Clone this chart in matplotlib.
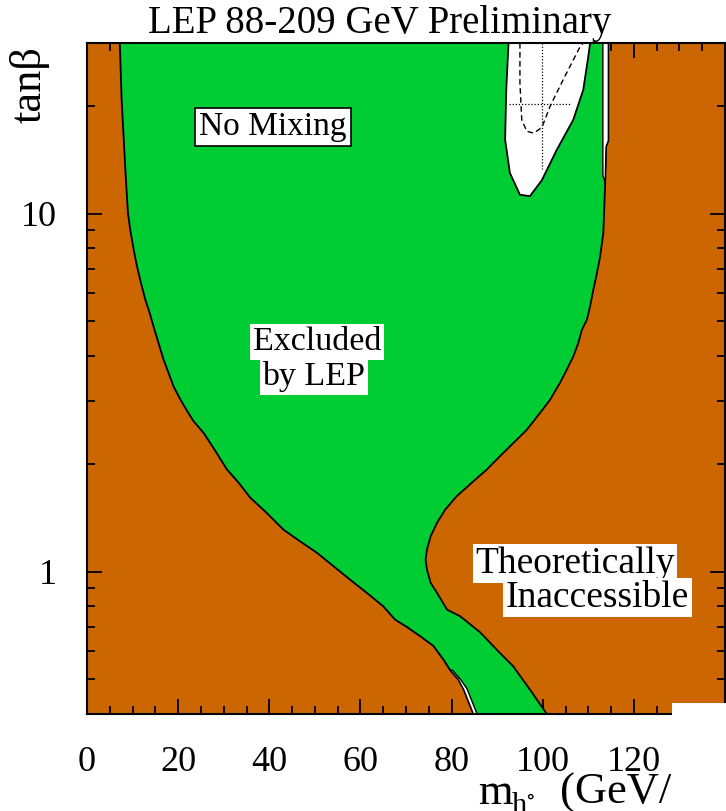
import matplotlib
matplotlib.use("Agg")
import matplotlib.pyplot as plt
from matplotlib.patches import Rectangle
from matplotlib.ticker import LogLocator, MultipleLocator, NullFormatter

plt.rcParams["font.family"] = ["Liberation Serif", "DejaVu Serif"]
plt.rcParams["mathtext.fontset"] = "stix"

BROWN = "#CC6600"
GREEN = "#00CC33"

# excluded region: left edge (top -> bottom), right edge (bottom -> top)
left_m = [7.2, 7.6, 8.5, 9.0, 9.5, 10.25, 11.0, 11.85, 12.8, 13.76, 14.6, 15.7,
          16.8, 17.9, 19.0, 20.4, 21.9, 23.4, 25.6, 28.2, 30.7, 33.3, 35.8, 39.4,
          43.1, 46.75, 50.4, 54.1, 57.7, 61.4, 65.0, 67.6, 70.2, 73.1, 76.0, 78.2,
          79.7, 81.5, 82.6, 84.8]
left_tb = [30, 20.8, 12.7, 10.0, 9.0, 7.93, 7.1, 6.4, 5.75, 5.28, 4.84, 4.35,
           3.91, 3.59, 3.29, 3.04, 2.82, 2.63, 2.44, 2.17, 1.93, 1.77, 1.61, 1.46,
           1.31, 1.215, 1.13, 1.035, 0.95, 0.872, 0.80, 0.734, 0.70, 0.66, 0.62, 0.568,
           0.53, 0.499, 0.47, 0.40]
right_m = [100.9, 97.2, 93.5, 89.9, 86.3, 81.9, 79.0, 76.8, 75.4, 74.6, 74.3, 74.6,
           75.4, 76.8, 78.6, 81.1, 84.4, 87.7, 90.6, 93.6, 96.5, 99.4, 101.6, 103.8,
           105.3, 106.7, 107.8, 108.6, 109.7, 110.4, 111.1, 111.9, 112.6, 113.3,
           113.7, 113.9, 114.4, 114.4]
right_tb = [0.40, 0.468, 0.544, 0.605, 0.676, 0.750, 0.783, 0.872, 0.93, 1.013, 1.08,
            1.152, 1.255, 1.368, 1.49, 1.623, 1.77, 1.927, 2.10, 2.29, 2.49, 2.775,
            3.02, 3.37, 3.67, 3.99, 4.35, 4.74, 5.06, 5.51, 6.13, 6.83, 7.6, 8.83,
            12.18, 15.4, 16.0, 30]

# thin allowed strip on the right edge of the excluded band
strip_m = [113.2, 113.2, 113.7, 113.9, 114.4, 114.4]
strip_tb = [30, 12.8, 12.2, 15.4, 16.0, 30]

# allowed region at high tan(beta)
blob_m = [92.5, 92.0, 91.75, 92.8, 95.0, 97.2, 99.8, 103.1, 106.7, 108.9, 110.0, 110.4]
blob_tb = [30, 22.2, 16.1, 13.0, 11.3, 11.2, 12.4, 15.1, 18.3, 22.2, 27.5, 30]

# expected limit (dashed)
dash_m = [95.0, 95.0, 95.4, 96.5, 98.0, 99.8, 101.6, 104.5, 108.2, 108.9]
dash_tb = [30, 23.2, 18.3, 17.0, 16.8, 17.4, 19.95, 23.7, 29.3, 30]

# dotted cross
vline_m = [99.8, 99.8]
vline_tb = [30, 13.3]
hline_m = [92.5, 106.0]
hline_tb = [20.2, 20.2]

# small allowed sliver near the bottom
sliver_m = [79.7, 81.5, 82.6, 84.8, 85.6, 83.4, 82.0, 80.2]
sliver_tb = [0.53, 0.499, 0.47, 0.40, 0.40, 0.47, 0.499, 0.53]

x_major = [0, 20, 40, 60, 80, 100, 120, 140]
x_labels = ["0", "20", "40", "60", "80", "100", "120", ""]
y_major = [1, 10]
y_labels = ["1", "10"]

fig = plt.figure(figsize=(7.26, 8.11), dpi=100)
ax = fig.add_axes([87 / 726, 1 - 714 / 811, 638 / 726, 671 / 811])
ax.set_facecolor(BROWN)
ax.set_yscale("log")
ax.set_xlim(0, 140)
ax.set_ylim(0.4, 30)

ax.fill(left_m + right_m, left_tb + right_tb, facecolor=GREEN,
        edgecolor="black", linewidth=1.3, zorder=2)
ax.fill(strip_m, strip_tb, facecolor="white", edgecolor="black", linewidth=1.0, zorder=3)
ax.fill(blob_m, blob_tb, facecolor="white", edgecolor="black", linewidth=1.3, zorder=3)
ax.fill(sliver_m, sliver_tb, facecolor="white", edgecolor="black", linewidth=1.0, zorder=3)
ax.plot(dash_m, dash_tb, color="black", linestyle=(0, (4, 2.5)), linewidth=1.0, zorder=4)
ax.plot(vline_m, vline_tb, color="black", linestyle=(0, (1, 1.5)), linewidth=0.9, zorder=4)
ax.plot(hline_m, hline_tb, color="black", linestyle=(0, (1, 1.5)), linewidth=0.9, zorder=4)

box = dict(facecolor="white", edgecolor="none", pad=2)
ax.text(40.8, 17.5, "No Mixing", fontsize=24, ha="center", va="center", zorder=5,
        bbox=dict(facecolor="white", edgecolor="black", linewidth=1.2, pad=3))
ax.text(50.5, 4.38, "Excluded", fontsize=24.5, ha="center", va="center", zorder=5, bbox=box)
ax.text(49.8, 3.51, "by LEP", fontsize=24.5, ha="center", va="center", zorder=5, bbox=box)
ax.text(107.1, 1.053, "Theoretically", fontsize=27, ha="center", va="center", zorder=5, bbox=box)
ax.text(112.0, 0.846, "Inaccessible", fontsize=27, ha="center", va="center", zorder=5, bbox=box)

ax.set_xticks(x_major, labels=x_labels)
ax.xaxis.set_minor_locator(MultipleLocator(5))
ax.set_yticks(y_major, labels=y_labels)
ax.yaxis.set_minor_locator(LogLocator(base=10, subs=range(2, 10)))
ax.yaxis.set_minor_formatter(NullFormatter())
ax.tick_params(which="both", direction="in", top=True, right=True,
               width=1.3, labelsize=26, pad=22)
ax.tick_params(axis="x", pad=23)
ax.tick_params(which="major", length=11)
ax.tick_params(which="minor", length=6)
for s in ax.spines.values():
    s.set_linewidth(1.5)
    s.set_zorder(6)

fig.text(380 / 726, 1 - 33 / 811, "LEP 88-209 GeV Preliminary", fontsize=28,
         ha="center", va="baseline")
fig.text(30 / 726, 1 - 85 / 811, "tanβ", fontsize=32, rotation=90,
         ha="center", va="center")
fig.text(478 / 726, 7 / 811, "m", fontsize=32, ha="left", va="baseline")
fig.text(511 / 726, -3 / 811, r"h$^{\circ}$", fontsize=22, ha="left", va="baseline")
fig.text(671 / 726, 7 / 811, "(GeV/", fontsize=32, ha="right", va="baseline")

# white patch over the lower right corner
fig.patches.append(Rectangle((672 / 726, 0), 54 / 726, 108 / 811,
                             transform=fig.transFigure, facecolor="white",
                             edgecolor="none", zorder=10))

fig.savefig("out.png", dpi=100)
